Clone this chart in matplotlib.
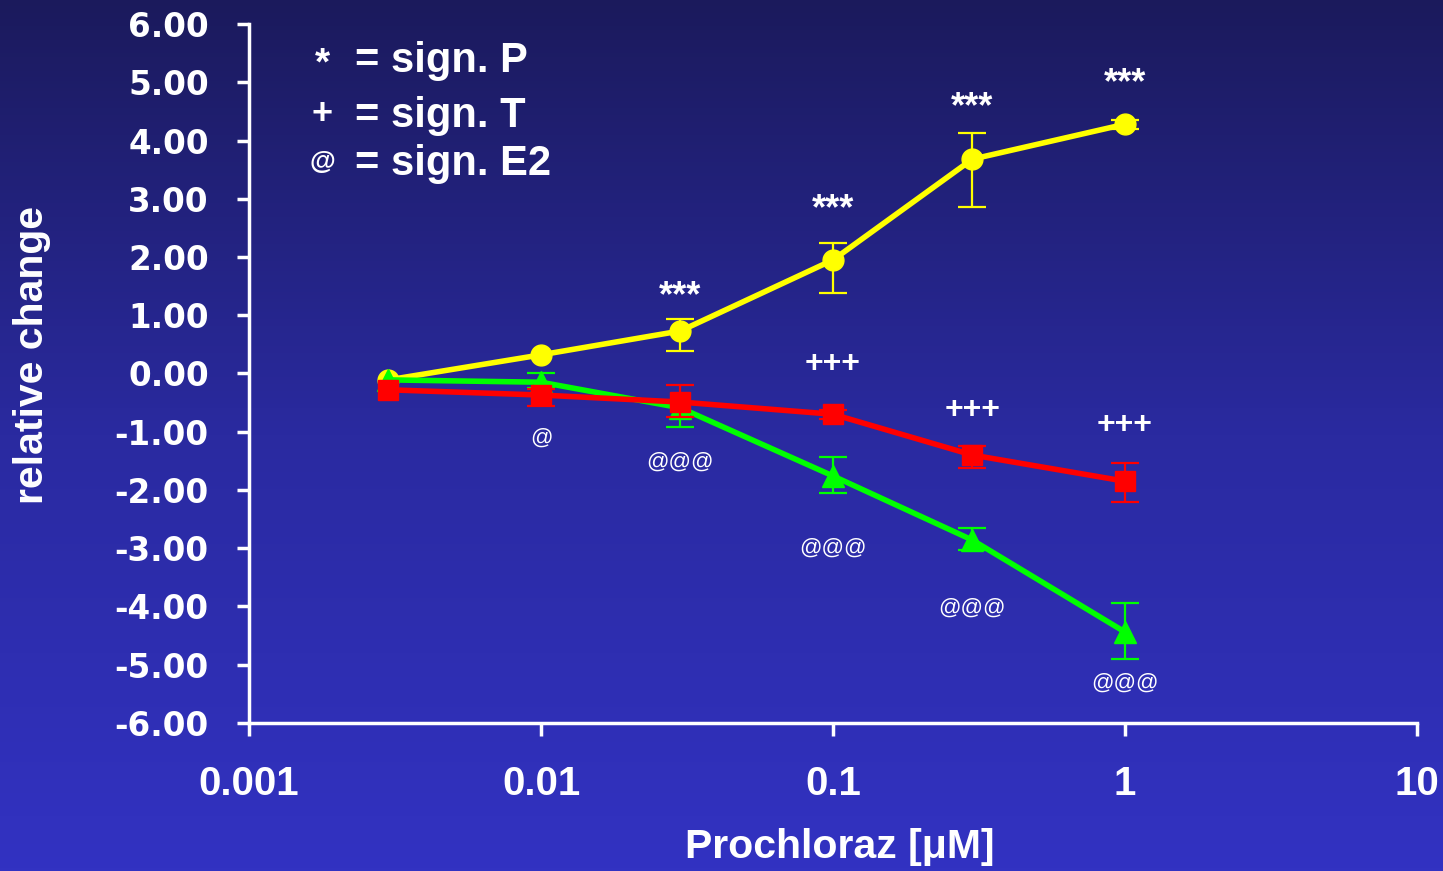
import numpy as np
import matplotlib
matplotlib.use('Agg')
import matplotlib.pyplot as plt
from matplotlib.colors import LinearSegmentedColormap

nan = np.nan

# concentrations [uM]
conc = [0.003, 0.01, 0.03, 0.1, 0.3, 1]

# P (yellow)
p_mean = [-0.11, 0.32, 0.73, 1.95, 3.68, 4.28]
p_lo = [nan, nan, 0.35, 0.57, 0.82, 0.08]
p_hi = [nan, nan, 0.20, 0.29, 0.45, 0.08]

# T (red)
t_mean = [-0.28, -0.37, -0.49, -0.70, -1.40, -1.85]
t_lo = [nan, 0.19, 0.25, 0.08, 0.22, 0.35]
t_hi = [nan, 0.10, 0.30, 0.08, 0.15, 0.31]

# E2 (green)
e_mean = [-0.11, -0.15, -0.59, -1.76, -2.86, -4.44]
e_lo = [nan, 0.10, 0.33, 0.29, 0.17, 0.46]
e_hi = [nan, 0.15, 0.10, 0.33, 0.21, 0.50]

# significance marks
star_x = [0.03, 0.1, 0.3, 1]
star_y = [1.32, 2.81, 4.56, 4.97]
plus_x = [0.1, 0.3, 1]
plus_y = [0.16, -0.62, -0.88]
at_x = [0.01, 0.03, 0.1, 0.3, 1]
at_y = [-1.11, -1.52, -3.0, -4.03, -5.31]
at_lab = ['@', '@@@', '@@@', '@@@', '@@@']

yticks = np.arange(-6, 7, 1)
xticks = [0.001, 0.01, 0.1, 1, 10]
xticklabels = ['0.001', '0.01', '0.1', '1', '10']

fig = plt.figure(figsize=(14.43, 8.71), dpi=100)

# background gradient
bg = fig.add_axes([0, 0, 1, 1], zorder=-10)
cmap = LinearSegmentedColormap.from_list('bg', ['#1b1a5c', '#2a2aa0', '#3232c2'])
grad = np.linspace(0, 1, 256).reshape(-1, 1)
bg.imshow(grad, aspect='auto', cmap=cmap, extent=[0, 1, 0, 1], origin='upper')
bg.axis('off')

ax = fig.add_axes([0.1726, 0.170, 0.8094, 0.8024])
ax.patch.set_alpha(0)

ax.errorbar(conc, p_mean, yerr=[p_lo, p_hi], color='#ffff00', lw=4, marker='o',
            ms=15, elinewidth=1.6, capsize=10, capthick=1.6, zorder=3)
ax.errorbar(conc, e_mean, yerr=[e_lo, e_hi], color='#00ff00', lw=4, marker='^',
            ms=16, elinewidth=1.6, capsize=10, capthick=1.6, zorder=4)
ax.errorbar(conc, t_mean, yerr=[t_lo, t_hi], color='#ff0000', lw=4, marker='s',
            ms=14, elinewidth=1.6, capsize=10, capthick=1.6, zorder=5)

for x, y in zip(star_x, star_y):
    ax.text(x, y, '***', color='white', fontsize=26, fontweight='bold',
            family='Liberation Sans', ha='center', va='center')
for x, y in zip(plus_x, plus_y):
    ax.text(x, y, '+++', color='white', fontsize=23, fontweight='bold',
            family='Liberation Sans', ha='center', va='center')
for x, y, s in zip(at_x, at_y, at_lab):
    ax.text(x, y, s, color='white', fontsize=16, family='Liberation Sans',
            ha='center', va='center')

ax.set_xscale('log')
ax.set_xlim(0.001, 10)
ax.set_ylim(-6, 6)
ax.set_yticks(yticks)
ax.set_yticklabels(['%.2f' % v for v in yticks], color='white', fontsize=23.5,
                   fontweight='bold', family='DejaVu Sans')
ax.set_xticks(xticks)
ax.set_xticklabels(xticklabels, color='white', fontsize=29, fontweight='bold',
                   family='Liberation Sans')
ax.minorticks_off()
ax.tick_params(axis='y', colors='white', length=9, width=2.5, pad=20)
ax.tick_params(axis='x', colors='white', length=9, width=2.5, pad=21)
for s in ['top', 'right']:
    ax.spines[s].set_visible(False)
for s in ['left', 'bottom']:
    ax.spines[s].set_color('white')
    ax.spines[s].set_linewidth(2.5)

ax.set_xlabel('Prochloraz [\u03bcM]', color='white', fontsize=29.5, fontweight='bold',
              family='Liberation Sans')
ax.xaxis.set_label_coords(0.506, -0.150)
ax.set_ylabel('relative change', color='white', fontsize=29.5, fontweight='bold',
              family='Liberation Sans')
ax.yaxis.set_label_coords(-0.170, 0.526)

# legend text
leg_sym = ['*', '+', '@']
sym_size = [28, 26, 19]
sym_base = [0.914, 0.858, 0.806]
leg_txt = ['= sign. P', '= sign. T', '= sign. E2']
leg_y = [0.917, 0.854, 0.799]
for sym, fs, yb, txt, y in zip(leg_sym, sym_size, sym_base, leg_txt, leg_y):
    fig.text(0.2235, yb, sym, color='white', fontsize=fs, fontweight='bold',
             family='Liberation Sans', ha='center', va='baseline')
    fig.text(0.246, y, txt, color='white', fontsize=30, fontweight='bold',
             family='Liberation Sans', ha='left', va='baseline')

fig.savefig('out.png', dpi=100)
